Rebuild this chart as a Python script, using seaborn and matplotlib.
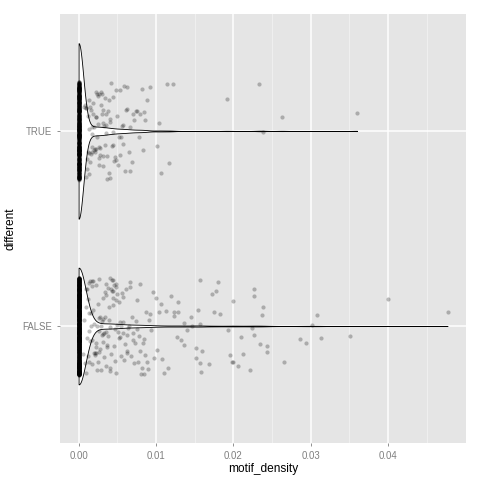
import numpy as np
import pandas as pd
import matplotlib
matplotlib.use("Agg")
import matplotlib.pyplot as plt
import seaborn as sns
from matplotlib.ticker import FixedLocator

# Data
groups = ["TRUE", "FALSE"]
n_zero_true = 600
n_zero_false = 1000

true_vals = [0.0007, 0.0008, 0.0009, 0.0010, 0.0010, 0.0011, 0.0011, 0.0012, 0.0012, 0.0013,
             0.0013, 0.0014, 0.0014, 0.0015, 0.0015, 0.0016, 0.0016, 0.0017, 0.0017, 0.0018,
             0.0018, 0.0019, 0.0019, 0.0020, 0.0020, 0.0021, 0.0021, 0.0022, 0.0022, 0.0023,
             0.0023, 0.0024, 0.0024, 0.0025, 0.0025, 0.0026, 0.0026, 0.0027, 0.0027, 0.0028,
             0.0028, 0.0029, 0.0029, 0.0030, 0.0030, 0.0031, 0.0031, 0.0032, 0.0032, 0.0033,
             0.0034, 0.0034, 0.0035, 0.0035, 0.0036, 0.0037, 0.0037, 0.0038, 0.0039, 0.0039,
             0.0040, 0.0041, 0.0041, 0.0042, 0.0043, 0.0044, 0.0044, 0.0045, 0.0046, 0.0047,
             0.0048, 0.0049, 0.0050, 0.0051, 0.0052, 0.0053, 0.0054, 0.0055, 0.0056, 0.0057,
             0.0058, 0.0059, 0.0060, 0.0061, 0.0062, 0.0063, 0.0065, 0.0066, 0.0067, 0.0069,
             0.0071, 0.0072, 0.0074, 0.0076, 0.0078, 0.0080, 0.0082, 0.0083, 0.0084, 0.0086,
             0.0089, 0.0092, 0.0101, 0.0104, 0.0106, 0.0114, 0.0117, 0.0122, 0.0192, 0.0233,
             0.0238, 0.0263, 0.0360]

false_vals = [0.0006, 0.0007, 0.0008, 0.0009, 0.0010, 0.0010, 0.0011, 0.0011, 0.0012, 0.0012,
              0.0013, 0.0013, 0.0014, 0.0014, 0.0015, 0.0015, 0.0016, 0.0016, 0.0017, 0.0017,
              0.0018, 0.0018, 0.0019, 0.0019, 0.0020, 0.0020, 0.0021, 0.0021, 0.0022, 0.0022,
              0.0023, 0.0023, 0.0024, 0.0024, 0.0025, 0.0025, 0.0026, 0.0026, 0.0027, 0.0027,
              0.0028, 0.0028, 0.0029, 0.0029, 0.0030, 0.0030, 0.0031, 0.0031, 0.0032, 0.0032,
              0.0033, 0.0033, 0.0034, 0.0034, 0.0035, 0.0035, 0.0036, 0.0036, 0.0037, 0.0037,
              0.0038, 0.0038, 0.0039, 0.0039, 0.0040, 0.0040, 0.0041, 0.0041, 0.0042, 0.0042,
              0.0043, 0.0043, 0.0044, 0.0044, 0.0045, 0.0045, 0.0046, 0.0046, 0.0047, 0.0047,
              0.0048, 0.0048, 0.0049, 0.0049, 0.0050, 0.0050, 0.0051, 0.0052, 0.0052, 0.0053,
              0.0054, 0.0055, 0.0055, 0.0056, 0.0057, 0.0058, 0.0058, 0.0059, 0.0060, 0.0061,
              0.0062, 0.0062, 0.0063, 0.0064, 0.0065, 0.0066, 0.0067, 0.0068, 0.0069, 0.0070,
              0.0071, 0.0072, 0.0073, 0.0074, 0.0075, 0.0076, 0.0077, 0.0078, 0.0079, 0.0080,
              0.0081, 0.0082, 0.0083, 0.0084, 0.0085, 0.0086, 0.0087, 0.0088, 0.0090, 0.0091,
              0.0093, 0.0094, 0.0096, 0.0098, 0.0100, 0.0102, 0.0104, 0.0106, 0.0108, 0.0110,
              0.0113, 0.0116, 0.0119, 0.0123, 0.0123, 0.0127, 0.0129, 0.0129, 0.0133, 0.0136,
              0.0136, 0.0140, 0.0145, 0.0147, 0.0152, 0.0152, 0.0155, 0.0157, 0.0157, 0.0157,
              0.0158, 0.0160, 0.0169, 0.0173, 0.0175, 0.0178, 0.0180, 0.0183, 0.0193, 0.0196,
              0.0199, 0.0200, 0.0200, 0.0206, 0.0210, 0.0213, 0.0222, 0.0224, 0.0227, 0.0227,
              0.0227, 0.0235, 0.0237, 0.0238, 0.0244, 0.0244, 0.0265, 0.0286, 0.0294, 0.0302,
              0.0308, 0.0313, 0.0351, 0.0400, 0.0477]

x_ticks = [0.00, 0.01, 0.02, 0.03, 0.04]
x_minor = [0.005, 0.015, 0.025, 0.035, 0.045]

df = pd.DataFrame({
    "motif_density": [0.0] * n_zero_true + true_vals + [0.0] * n_zero_false + false_vals,
    "different": ["TRUE"] * (n_zero_true + len(true_vals)) + ["FALSE"] * (n_zero_false + len(false_vals)),
})

np.random.seed(3)
plt.rcParams["font.family"] = ["Liberation Sans", "DejaVu Sans"]

fig = plt.figure(figsize=(4.8, 4.8), dpi=100)
ax = fig.add_axes([0.125, 0.077, 0.846, 0.894])
ax.set_facecolor("#E5E5E5")

# violin first, jittered points on top (like geom_violin + geom_jitter)
sns.violinplot(data=df, x="motif_density", y="different", order=groups, orient="h",
               color="white", linecolor="black", linewidth=0.6, inner=None, cut=0,
               width=0.9, density_norm="area", gridsize=600, bw_adjust=0.8,
               saturation=1, ax=ax)
sns.stripplot(data=df, x="motif_density", y="different", order=groups, orient="h",
              jitter=0.25, color="black", alpha=0.25, size=3, linewidth=0, ax=ax)

ax.set_xlim(-0.0024, 0.0501)
ax.set_ylim(1.6, -0.6)
ax.xaxis.set_major_locator(FixedLocator(x_ticks))
ax.xaxis.set_minor_locator(FixedLocator(x_minor))
ax.xaxis.set_major_formatter(matplotlib.ticker.FormatStrFormatter("%.2f"))
ax.grid(which="major", color="white", linewidth=1.1)
ax.grid(which="minor", axis="x", color="#F2F2F2", linewidth=0.6)
ax.set_axisbelow(True)
for s in ax.spines.values():
    s.set_visible(False)
ax.tick_params(which="major", colors="#7F7F7F", labelsize=6.9, length=2.5, width=0.6)
ax.tick_params(which="minor", length=0)
ax.set_xlabel("motif_density", fontsize=8.6, labelpad=1)
ax.set_ylabel("different", fontsize=8.6, labelpad=4)

fig.savefig("out.png", dpi=100)
